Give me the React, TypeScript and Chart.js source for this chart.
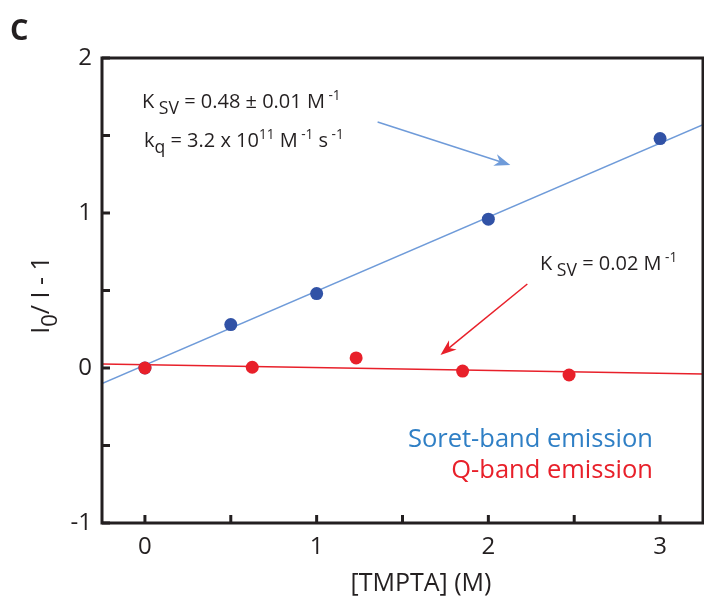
import React, { useEffect, useRef } from "react";
import { Chart, registerables } from "chart.js";

Chart.register(...registerables);

// ---- data ----
const soretX = [0, 0.5, 1, 2, 3];
const soretY = [0, 0.28, 0.48, 0.96, 1.48];
const qX = [0, 0.625, 1.23, 1.85, 2.47];
const qY = [0, 0.005, 0.065, -0.02, -0.045];
const fitX = [-0.25, 3.25];
const soretFitY = [-0.1, 1.57];
const qFitY = [0.026, -0.039];
const xRange = [-0.25, 3.25];
const yRange = [-1, 2];
const xTicks = [0, 0.5, 1, 1.5, 2, 2.5, 3];
const yTicks = [-1, -0.5, 0, 0.5, 1, 1.5, 2];
const arrowSoret = { from: [1.355, 1.587], to: [2.128, 1.31] };
const arrowQ = { from: [2.227, 0.542], to: [1.721, 0.084] };
const legendLabels = ["Soret-band emission", "Q-band emission"];

const FONT = "'Open Sans', 'Noto Sans', sans-serif";
const BLUE_PT = "#3152a6";
const BLUE_LINE = "#6f9bd9";
const BLUE_TXT = "#2f7fc5";
const RED = "#e8202a";
const INK = "#231f20";

type Seg = [string, "n" | "sub" | "sup"];

function segSize(m: string, size: number) {
  return m === "n" ? size : m === "sub" ? size * 0.88 : size * 0.68;
}

function drawRich(ctx: CanvasRenderingContext2D, x: number, y: number, segs: Seg[], size: number, color: string) {
  let cx = x;
  ctx.save();
  ctx.fillStyle = color;
  ctx.textBaseline = "alphabetic";
  ctx.textAlign = "left";
  for (const [t, m] of segs) {
    const s = segSize(m, size);
    const dy = m === "sub" ? size * 0.3 : m === "sup" ? -size * 0.42 : 0;
    ctx.font = `${s}px ${FONT}`;
    ctx.fillText(t, cx, y + dy);
    cx += ctx.measureText(t).width;
  }
  ctx.restore();
}

function drawArrow(ctx: CanvasRenderingContext2D, x1: number, y1: number, x2: number, y2: number, color: string) {
  const ang = Math.atan2(y2 - y1, x2 - x1);
  const L = 16, W = 6;
  ctx.save();
  ctx.strokeStyle = color;
  ctx.fillStyle = color;
  ctx.lineWidth = 1.5;
  ctx.beginPath();
  ctx.moveTo(x1, y1);
  ctx.lineTo(x2 - Math.cos(ang) * L * 0.6, y2 - Math.sin(ang) * L * 0.6);
  ctx.stroke();
  ctx.translate(x2, y2);
  ctx.rotate(ang);
  ctx.beginPath();
  ctx.moveTo(0, 0);
  ctx.lineTo(-L, -W);
  ctx.lineTo(-L * 0.7, 0);
  ctx.lineTo(-L, W);
  ctx.closePath();
  ctx.fill();
  ctx.restore();
}

const overlay = {
  id: "overlay",
  afterDraw(chart: any) {
    const ctx: CanvasRenderingContext2D = chart.ctx;
    const { left, right, top, bottom } = chart.chartArea;
    const xs = chart.scales.x;
    const ys = chart.scales.y;
    // frame
    ctx.save();
    ctx.strokeStyle = INK;
    ctx.lineWidth = 3;
    ctx.strokeRect(left, top, right - left, bottom - top);
    // inward ticks
    for (const v of xTicks) {
      const px = xs.getPixelForValue(v);
      ctx.beginPath();
      ctx.moveTo(px, bottom);
      ctx.lineTo(px, bottom - 8);
      ctx.stroke();
    }
    for (const v of yTicks) {
      const py = ys.getPixelForValue(v);
      ctx.beginPath();
      ctx.moveTo(left, py);
      ctx.lineTo(left + 8, py);
      ctx.stroke();
    }
    ctx.restore();

    // arrows
    drawArrow(ctx, xs.getPixelForValue(arrowSoret.from[0]), ys.getPixelForValue(arrowSoret.from[1]),
      xs.getPixelForValue(arrowSoret.to[0]), ys.getPixelForValue(arrowSoret.to[1]), BLUE_LINE);
    drawArrow(ctx, xs.getPixelForValue(arrowQ.from[0]), ys.getPixelForValue(arrowQ.from[1]),
      xs.getPixelForValue(arrowQ.to[0]), ys.getPixelForValue(arrowQ.to[1]), RED);

    // annotations
    drawRich(ctx, 142, 108, [["K", "n"], [" SV", "sub"], [" = 0.48 ± 0.01 M", "n"], [" -1", "sup"]], 20, INK);
    drawRich(ctx, 144, 147, [["k", "n"], ["q", "sub"], [" = 3.2 x 10", "n"], ["11", "sup"], [" M", "n"], [" -1", "sup"], [" s", "n"], [" -1", "sup"]], 20, INK);
    drawRich(ctx, 540, 270, [["K", "n"], [" SV", "sub"], [" = 0.02 M", "n"], [" -1", "sup"]], 20, INK);

    // legend
    ctx.save();
    ctx.textAlign = "right";
    ctx.textBaseline = "alphabetic";
    ctx.font = `25.5px ${FONT}`;
    ctx.fillStyle = BLUE_TXT;
    ctx.fillText(legendLabels[0], 653, 447);
    ctx.fillStyle = RED;
    ctx.fillText(legendLabels[1], 653, 478);
    ctx.restore();

    // panel letter
    ctx.save();
    ctx.font = `bold 29px ${FONT}`;
    ctx.fillStyle = INK;
    ctx.textBaseline = "alphabetic";
    ctx.fillText("C", 10, 40);
    ctx.restore();

    // x title
    ctx.save();
    ctx.font = `25px ${FONT}`;
    ctx.fillStyle = INK;
    ctx.textAlign = "center";
    ctx.textBaseline = "alphabetic";
    ctx.fillText("[TMPTA] (M)", 421, 591);
    ctx.restore();

    // y title rotated
    const segs: Seg[] = [["I", "n"], ["0", "sub"], ["/ I - 1", "n"]];
    ctx.save();
    let w = 0;
    for (const [t, m] of segs) {
      ctx.font = `${segSize(m, 25)}px ${FONT}`;
      w += ctx.measureText(t).width;
    }
    ctx.translate(49, 295);
    ctx.rotate(-Math.PI / 2);
    drawRich(ctx, -w / 2, 0, segs, 25, INK);
    ctx.restore();
  },
};

export default function App() {
  const ref = useRef<HTMLCanvasElement>(null);
  useEffect(() => {
    document.body.style.margin = "0";
    const canvas = ref.current!;
    const label = (v: any) => (Math.abs(v - Math.round(v)) < 1e-6 ? String(Math.round(v)) : "");
    const chart = new Chart(canvas, {
      type: "scatter",
      data: {
        datasets: [
          {
            data: fitX.map((x, i) => ({ x, y: soretFitY[i] })), order: 3,
            showLine: true, borderColor: BLUE_LINE, borderWidth: 1.5, pointRadius: 0,
          },
          {
            data: fitX.map((x, i) => ({ x, y: qFitY[i] })), order: 2,
            showLine: true, borderColor: RED, borderWidth: 1.5, pointRadius: 0,
          },
          {
            data: soretX.map((x, i) => ({ x, y: soretY[i] })), order: 1,
            pointRadius: 6.5, pointBackgroundColor: BLUE_PT, pointBorderWidth: 0, borderColor: BLUE_PT,
          },
          {
            data: qX.map((x, i) => ({ x, y: qY[i] })), order: 0,
            pointRadius: 6.5, pointBackgroundColor: RED, pointBorderWidth: 0, borderColor: RED,
          },
        ],
      },
      options: {
        animation: false,
        responsive: false,
        devicePixelRatio: 1,
        layout: { autoPadding: false, padding: { left: 0, right: 1, top: 58, bottom: 0 } },
        plugins: { legend: { display: false }, tooltip: { enabled: false } },
        scales: {
          x: {
            type: "linear", min: xRange[0], max: xRange[1],
            grid: { display: false, drawTicks: false },
            border: { display: false },
            afterBuildTicks: (s: any) => { s.ticks = xTicks.map((v) => ({ value: v })); },
            afterFit: (s: any) => { s.height = 80; s.paddingRight = 0; s.paddingLeft = 0; },
            ticks: {
              autoSkip: false, maxRotation: 0, padding: 10, color: INK,
              font: { family: FONT, size: 24 },
              callback: label,
            },
          },
          y: {
            type: "linear", min: yRange[0], max: yRange[1],
            grid: { display: false, drawTicks: false },
            border: { display: false },
            afterBuildTicks: (s: any) => { s.ticks = yTicks.map((v) => ({ value: v })); },
            afterFit: (s: any) => { s.width = 102; s.paddingTop = 0; s.paddingBottom = 0; },
            ticks: {
              autoSkip: false, padding: 10, color: INK,
              font: { family: FONT, size: 24 },
              callback: label,
            },
          },
        },
      },
      plugins: [overlay],
    });
    return () => chart.destroy();
  }, []);
  return <canvas ref={ref} width={704} height={603} style={{ display: "block" }} />;
}
